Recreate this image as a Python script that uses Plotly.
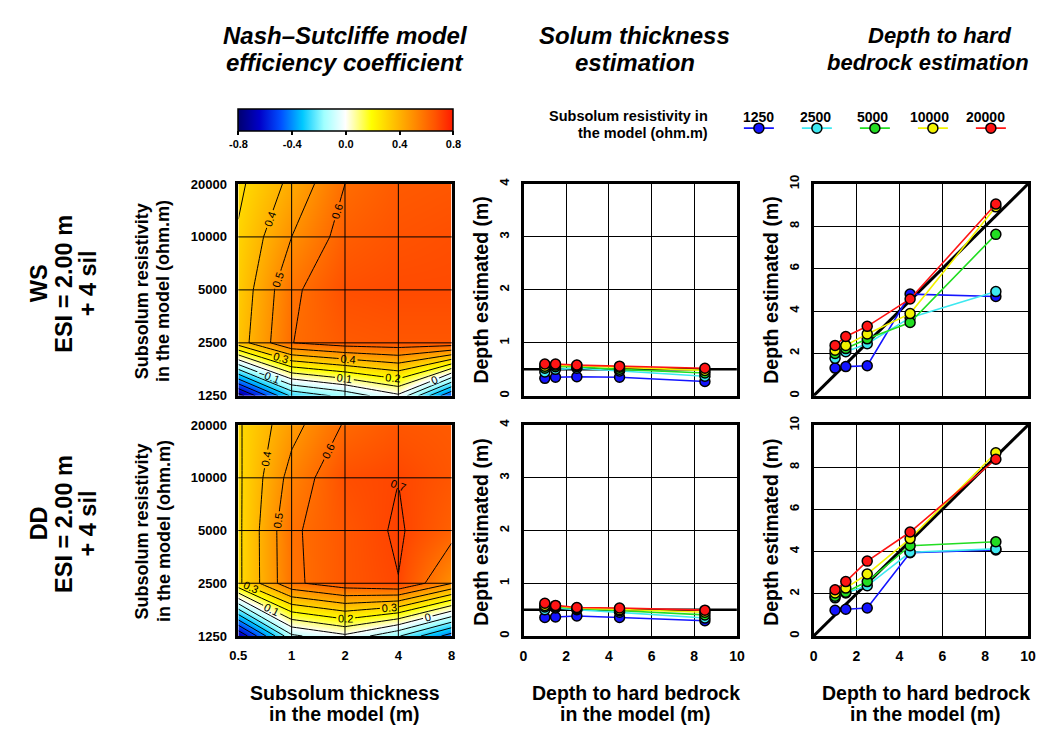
import math
import plotly.graph_objects as go

# The page body keeps the browser's default 8px margin, so the figure is
# sized to fit the 1046x734 window exactly inside that margin.
PAD = 8
W, H = 1046 - 2 * PAD, 734 - 2 * PAD
FONT = "Liberation Sans, Arial, sans-serif"

# ---------------- data ----------------
thickness = [0.5, 1, 2, 4, 8]                       # subsolum thickness in the model (m)
thickness_labels = ["0.5", "1", "2", "4", "8"]
resistivity = [1250, 2500, 5000, 10000, 20000]      # subsolum resistivity (ohm.m)
resistivity_labels = ["1250", "2500", "5000", "10000", "20000"]

# Nash-Sutcliffe efficiency, rows = resistivity, cols = thickness
nse_ws = [
    [-0.75, -0.28, -0.17, -0.02, -0.50],
    [0.35, 0.598, 0.65, 0.66, 0.66],
    [0.33, 0.58, 0.68, 0.69, 0.69],
    [0.31, 0.50, 0.64, 0.67, 0.68],
    [0.28, 0.425, 0.60, 0.65, 0.66],
]
nse_dd = [
    [-0.70, -0.12, -0.02, -0.19, -0.45],
    [0.28, 0.58, 0.66, 0.698, 0.502],
    [0.28, 0.585, 0.66, 0.71, 0.63],
    [0.282, 0.538, 0.68, 0.699, 0.66],
    [0.2875, 0.466, 0.61, 0.66, 0.65],
]

depth_bedrock = [1, 1.5, 2.5, 4.5, 8.5]
series_names = resistivity_labels
series_colors = ["#1414ff", "#3ee8f0", "#22dd22", "#f2f200", "#ff1414"]

solum_ws = [
    [0.33, 0.35, 0.36, 0.35, 0.27],
    [0.45, 0.50, 0.52, 0.47, 0.37],
    [0.52, 0.55, 0.55, 0.50, 0.43],
    [0.56, 0.58, 0.57, 0.54, 0.48],
    [0.60, 0.60, 0.58, 0.56, 0.52],
]
solum_dd = [
    [0.35, 0.36, 0.38, 0.35, 0.29],
    [0.50, 0.53, 0.50, 0.45, 0.34],
    [0.55, 0.55, 0.52, 0.48, 0.40],
    [0.58, 0.57, 0.53, 0.50, 0.45],
    [0.62, 0.58, 0.54, 0.53, 0.49],
]
bedrock_ws = [
    [1.31, 1.38, 1.42, 4.80, 4.69],
    [1.77, 2.08, 2.46, 3.69, 4.92],
    [2.00, 2.23, 2.69, 3.46, 7.62],
    [2.15, 2.38, 2.92, 3.88, 8.92],
    [2.38, 2.80, 3.28, 4.57, 9.05],
]
bedrock_dd = [
    [1.22, 1.27, 1.33, 3.95, 4.08],
    [1.81, 2.04, 2.38, 3.97, 4.13],
    [1.89, 2.07, 2.58, 4.28, 4.47],
    [2.04, 2.27, 2.94, 4.62, 8.69],
    [2.19, 2.58, 3.55, 4.93, 8.38],
]

true_solum = [0.5, 0.5]
axis_extent = [0, 10]
one_to_one = [0, 10]

colorbar_ticks = [-0.8, -0.4, 0.0, 0.4, 0.8]
colorbar_ticktext = ["-0.8", "-0.4", "0.0", "0.4", "0.8"]

# ---------------- styling ----------------
cscale = [
    [0.00, "#00006e"],
    [0.10, "#0000c8"],
    [0.20, "#0050ff"],
    [0.30, "#00c8ff"],
    [0.40, "#a0ffff"],
    [0.50, "#ffffff"],
    [0.56, "#ffff80"],
    [0.62, "#ffff00"],
    [0.72, "#ffc400"],
    [0.82, "#ff8c00"],
    [0.92, "#ff5200"],
    [1.00, "#ff1a00"],
]

# panel edges in window pixels
col_px = [(233, 450), (523, 740), (818, 1036)]
row_px = [(179, 396), (426, 642)]


def px(x):
    return (x - PAD) / W


def py(y):
    return 1 - (y - PAD) / H


def xdom(a, b):
    return [px(a), px(b)]


def ydom(a, b):
    return [py(b), py(a)]


def sfx(n):
    return "" if n == 1 else str(n)


fig = go.Figure()
layout = dict(
    width=W, height=H, autosize=False,
    margin=dict(l=0, r=0, t=0, b=0),
    paper_bgcolor="white", plot_bgcolor="white",
    font=dict(family=FONT, color="black"),
    showlegend=True,
)
shapes = []

border = dict(showline=True, mirror=True, linecolor="black", linewidth=2.5, zeroline=False)

for r in range(2):
    for c in range(3):
        n = r * 3 + c + 1
        s = sfx(n)
        xa = dict(domain=xdom(*col_px[c]), anchor=f"y{s}", **border)
        ya = dict(domain=ydom(*row_px[r]), anchor=f"x{s}", **border)
        if c == 0:
            xa.update(type="log", range=[math.log10(thickness[0]), math.log10(thickness[-1])],
                      tickvals=thickness, ticktext=thickness_labels, showgrid=False,
                      ticks="", showticklabels=(r == 1), ticklabelstandoff=6,
                      tickfont=dict(size=13, weight="bold", family=FONT))
            ya.update(type="log", range=[math.log10(resistivity[0]), math.log10(resistivity[-1])],
                      tickvals=resistivity, ticktext=resistivity_labels, showgrid=False,
                      ticks="", ticklabelstandoff=6,
                      tickfont=dict(size=13, weight="bold", family=FONT))
            # grid drawn above the coloured field (shape positions are data values)
            for xv in thickness[1:-1]:
                shapes.append(dict(type="line", xref=f"x{s}", yref=f"y{s} domain",
                                   x0=xv, x1=xv, y0=0, y1=1,
                                   line=dict(color="black", width=1), layer="above"))
            for yv in resistivity[1:-1]:
                shapes.append(dict(type="line", xref=f"x{s} domain", yref=f"y{s}",
                                   x0=0, x1=1, y0=yv, y1=yv,
                                   line=dict(color="black", width=1), layer="above"))
        else:
            xa.update(range=axis_extent, dtick=2, tick0=0, showgrid=True, gridcolor="black",
                      gridwidth=1, ticks="", showticklabels=(r == 1), ticklabelstandoff=5,
                      tickfont=dict(size=14, weight="bold", family=FONT))
            if c == 1:
                ya.update(range=[0, 4], dtick=1)
            else:
                ya.update(range=[0, 10], dtick=2)
            ya.update(tick0=0, showgrid=True, gridcolor="black", gridwidth=1, ticks="",
                      tickangle=-90, ticklabelstandoff=7,
                      tickfont=dict(size=13, weight="bold", family=FONT))
        layout[f"xaxis{n}"] = xa
        layout[f"yaxis{n}"] = ya

# contour panels
for r, z in enumerate([nse_ws, nse_dd]):
    s = sfx(r * 3 + 1)
    fig.add_trace(go.Heatmap(
        x=thickness, y=resistivity, z=z, zsmooth="best", colorscale=cscale,
        zmin=-0.8, zmax=0.8, xaxis=f"x{s}", yaxis=f"y{s}", hoverinfo="skip",
        showscale=(r == 0), showlegend=False,
        colorbar=dict(orientation="h", x=px((233 + 452) / 2), xanchor="center",
                      y=py(102), yanchor="top", len=(452 - 233) / W, lenmode="fraction",
                      thickness=22, thicknessmode="pixels", xpad=0, ypad=0,
                      outlinewidth=1.5, outlinecolor="black",
                      tickvals=colorbar_ticks, ticktext=colorbar_ticktext,
                      ticks="outside", ticklen=4, tickwidth=1.5, tickcolor="black",
                      tickfont=dict(size=11, weight="bold", family=FONT)),
    ))
    fig.add_trace(go.Contour(
        x=thickness, y=resistivity, z=z, xaxis=f"x{s}", yaxis=f"y{s}",
        contours=dict(start=-0.8, end=0.8, size=0.1, coloring="none", showlabels=True,
                      labelfont=dict(size=11, color="black", family=FONT)),
        line=dict(color="black", width=1, smoothing=0),
        showscale=False, showlegend=False, hoverinfo="skip",
    ))

# line panels
panels = [(2, solum_ws), (3, bedrock_ws), (5, solum_dd), (6, bedrock_dd)]
for n, data in panels:
    s = sfx(n)
    if n in (2, 5):
        fig.add_trace(go.Scatter(x=axis_extent, y=true_solum, mode="lines",
                                 line=dict(color="black", width=2.5), xaxis=f"x{s}", yaxis=f"y{s}",
                                 showlegend=False, hoverinfo="skip"))
    else:
        fig.add_trace(go.Scatter(x=one_to_one, y=one_to_one, mode="lines",
                                 line=dict(color="black", width=3), xaxis=f"x{s}", yaxis=f"y{s}",
                                 showlegend=False, hoverinfo="skip"))
    for i, name in enumerate(series_names):
        fig.add_trace(go.Scatter(
            x=depth_bedrock, y=data[i], mode="lines+markers", name=name, legendgroup=name,
            showlegend=(n == 2), xaxis=f"x{s}", yaxis=f"y{s}",
            line=dict(color=series_colors[i], width=1.6),
            marker=dict(size=10, color=series_colors[i], line=dict(color="black", width=1.5)),
        ))

layout["legend"] = dict(orientation="h", x=px(742), xanchor="left", y=py(107), yanchor="top",
                        entrywidth=13, entrywidthmode="pixels", itemwidth=30,
                        font=dict(size=10, color="rgba(0,0,0,0)"),
                        bgcolor="rgba(0,0,0,0)", borderwidth=0)

ann = []


def text(t, x, y, size, angle=0, xanchor="center", yanchor="middle"):
    ann.append(dict(text=t, x=px(x), y=py(y), xref="paper", yref="paper", showarrow=False,
                    textangle=angle, xanchor=xanchor, yanchor=yanchor,
                    font=dict(size=size, family=FONT, color="black")))


# column titles (one annotation per line to keep the tight line spacing)
text("<i><b>Nash–Sutcliffe model</b></i>", 342, 27, 24)
text("<i><b>efficiency coefficient</b></i>", 342, 55, 24)
text("<i><b>Solum thickness</b></i>", 636, 27, 24)
text("<i><b>estimation</b></i>", 636, 55, 24)
text("<i><b>Depth to hard</b></i>", 946, 27, 22)
text("<i><b>bedrock estimation</b></i>", 934, 55, 22)

# legend heading and labels
text("<b>Subsolum resistivity in</b>", 713, 109, 14.5, xanchor="right")
text("<b>the model (ohm.m)</b>", 713, 127, 14.5, xanchor="right")
for lbl, xc in zip(series_names, [762, 820, 878, 936, 993]):
    text(f"<b>{lbl}</b>", xc, 110, 14)

# row labels
for row_name, yc in [("WS", 281), ("DD", 527)]:
    text(f"<b>{row_name}</b>", 30, yc, 23.5, angle=-90)
    text("<b>ESI = 2.00 m</b>", 55, yc, 23.5, angle=-90)
    text("<b>+ 4 sil</b>", 80, yc, 23.5, angle=-90)

# axis titles
for yc, yd in [(289, 288), (535, 536)]:
    text("<b>Subsolum resistivity</b>", 135, yc, 18, angle=-90)
    text("<b>in the model (ohm.m)</b>", 157, yc, 18, angle=-90)
    text("<b>Depth estimated (m)</b>", 480, yd, 19.5, angle=-90)
    text("<b>Depth estimated (m)</b>", 775, yd, 19.5, angle=-90)
text("<b>Subsolum thickness</b>", 341, 700, 19.5)
text("<b>in the model (m)</b>", 341, 722, 19.5)
for xc in [637, 932]:
    text("<b>Depth to hard bedrock</b>", xc, 700, 19.5)
    text("<b>in the model (m)</b>", xc, 722, 19.5)

layout["annotations"] = ann
layout["shapes"] = shapes
fig.update_layout(**layout)

fig.write_html("out.html", config={"displayModeBar": False})
